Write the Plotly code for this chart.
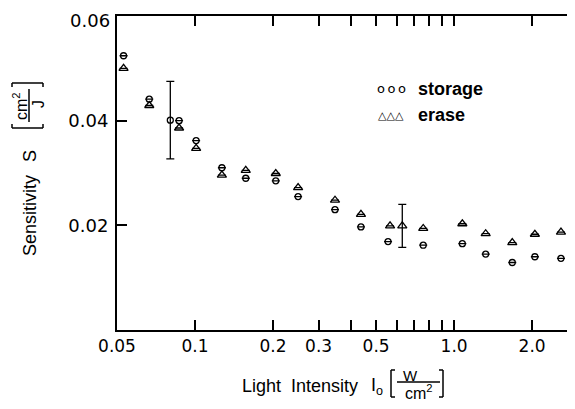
import math
import plotly.graph_objects as go

# ---- data ----
storage_x = [0.053, 0.0666, 0.0803, 0.0868, 0.101, 0.127, 0.157, 0.205, 0.25,
             0.347, 0.437, 0.556, 0.76, 1.076, 1.324, 1.677, 2.05, 2.585]
storage_y = [0.0524, 0.0441, 0.0401, 0.0400, 0.0362, 0.0310, 0.0290, 0.0285, 0.0255,
             0.0230, 0.0197, 0.0169, 0.0162, 0.0165, 0.0145, 0.0129, 0.0140, 0.0137]
storage_err = [None, None, 0.0074, None, None, None, None, None, None,
               None, None, None, None, None, None, None, None, None]

erase_x = [0.053, 0.0666, 0.0868, 0.101, 0.127, 0.157, 0.205, 0.25, 0.347,
           0.437, 0.566, 0.631, 0.76, 1.076, 1.324, 1.677, 2.05, 2.585]
erase_y = [0.0500, 0.0429, 0.0386, 0.0347, 0.0296, 0.0305, 0.0299, 0.0272, 0.0248,
           0.0221, 0.0199, 0.0199, 0.0194, 0.0203, 0.0184, 0.0167, 0.0183, 0.0187]
erase_err = [None, None, None, None, None, None, None, None, None,
             None, None, 0.0041, None, None, None, None, None, None]

x_tickvals = [0.05, 0.1, 0.2, 0.3, 0.5, 1.0, 2.0]
x_ticktext = ["0.05", "0.1", "0.2", "0.3", "0.5", "1.0", "2.0"]
x_minor_tickvals = [0.4, 0.6, 0.7, 0.8, 0.9]
y_tickvals = [0.02, 0.04]
y_ticktext = ["0.02", "0.04"]
y_top_label = "0.06"   # drawn separately so it stays inside the page

# ---- layout geometry (pixels, page has an 8px body margin) ----
OFF = 8
W, H = 575 - OFF, 409 - OFF
ML, MR, MT, MB = 117 - OFF, 0, 16 - OFF, 79
PW, PH = W - ML - MR, H - MT - MB
DECADE_PX = 259.1
xr = [math.log10(0.05), math.log10(0.05) + PW / DECADE_PX]


def px(x):  # window pixel -> paper
    return (x - OFF - ML) / PW


def py(y):
    return (H - MB - (y - OFF)) / PH


FONT = "Liberation Sans, Arial, sans-serif"
NUMFONT = "DejaVu Sans, sans-serif"
BLACK = "black"

fig = go.Figure()
fig.add_trace(go.Scatter(
    x=storage_x, y=storage_y, mode="markers", showlegend=False,
    marker=dict(symbol="circle-open", size=6, color=BLACK, line=dict(width=1.3, color=BLACK)),
    error_y=dict(type="data", array=storage_err, visible=True, color=BLACK, thickness=1.3, width=4),
))
fig.add_trace(go.Scatter(
    x=erase_x, y=erase_y, mode="markers", showlegend=False,
    marker=dict(symbol="triangle-up-open", size=8, color=BLACK, line=dict(width=1.3, color=BLACK)),
    error_y=dict(type="data", array=erase_err, visible=True, color=BLACK, thickness=1.3, width=4),
))
# helper trace so the right-hand tick axis is drawn
fig.add_trace(go.Scatter(x=storage_x, y=storage_y, yaxis="y2", mode="markers",
                         marker=dict(opacity=0), hoverinfo="skip", showlegend=False))

fig.update_layout(
    width=W, height=H,
    margin=dict(l=ML, r=MR, t=MT, b=MB, pad=0, autoexpand=False),
    paper_bgcolor="white", plot_bgcolor="white",
    font=dict(family=FONT, color=BLACK),
    xaxis=dict(type="log", range=xr, tickvals=x_tickvals, ticktext=x_ticktext,
               ticks="inside", ticklen=10, tickwidth=1.6, tickcolor=BLACK,
               minor=dict(tickvals=x_minor_tickvals, ticks="inside", ticklen=10,
                          tickwidth=1.6, tickcolor=BLACK, showgrid=False),
               showline=True, linewidth=2, linecolor=BLACK, mirror="ticks",
               showgrid=False, zeroline=False, automargin=False,
               ticklabeloverflow="allow",
               tickfont=dict(family=NUMFONT, size=17, color=BLACK)),
    yaxis=dict(range=[0, 0.06], tickvals=y_tickvals, ticktext=y_ticktext,
               ticks="inside", ticklen=10, tickwidth=1.6, tickcolor=BLACK,
               showline=True, linewidth=2, linecolor=BLACK, mirror=False,
               showgrid=False, zeroline=False, automargin=False, ticklabelstandoff=3,
               ticklabeloverflow="allow",
               tickfont=dict(family=NUMFONT, size=18, color=BLACK)),
    yaxis2=dict(range=[0, 0.06], overlaying="y", side="right", tickvals=y_tickvals,
                ticks="inside", ticklen=8, tickwidth=1.6, tickcolor=BLACK,
                showticklabels=False, showline=False, showgrid=False, zeroline=False,
                automargin=False),
)

ann = []


def add_text(text, x, y, size, angle=0, family=FONT, bold=False, anchor="center"):
    ann.append(dict(text=("<b>%s</b>" % text) if bold else text,
                    x=px(x), y=py(y), xref="paper", yref="paper",
                    xanchor=anchor, yanchor="middle", showarrow=False,
                    textangle=angle, font=dict(family=family, size=size, color=BLACK)))


# top y tick label
add_text(y_top_label, 112, 20, 18, family=NUMFONT, anchor="right")

# legend
add_text("o\u2009o\u2009o", 391, 89, 13, family=NUMFONT)
add_text("△△△", 391, 115, 11, family=NUMFONT, bold=True)
add_text("storage", 416, 89, 18, bold=True, anchor="left")
add_text("erase", 416, 115, 18, bold=True, anchor="left")

# x axis title
add_text("Light\u00a0\u00a0Intensity", 300, 386, 18)
add_text("I<sub>o</sub>", 377, 386, 18)
add_text("W", 410, 375, 15)
add_text("cm<sup>2</sup>", 419, 392, 16)

# y axis title
add_text("Sensitivity", 30, 216, 18, angle=-90)
add_text("S", 30, 156, 18, angle=-90)
add_text("cm<sup>2</sup>", 20, 106, 16, angle=-90)
add_text("J", 38, 104, 16, angle=-90)

fig.update_layout(annotations=ann)

shapes = []


def line(x0, y0, x1, y1, w=1.5):
    shapes.append(dict(type="line", xref="paper", yref="paper",
                       x0=px(x0), y0=py(y0), x1=px(x1), y1=py(y1),
                       line=dict(color=BLACK, width=w)))


# x title brackets + fraction bar
line(391, 370, 391, 397); line(391, 370, 395, 370); line(391, 397, 395, 397)
line(443, 370, 443, 397); line(443, 370, 439, 370); line(443, 397, 439, 397)
line(397, 382, 440, 382)
# y title brackets + fraction bar
line(12, 128, 43, 128); line(12, 128, 12, 124); line(43, 128, 43, 124)
line(12, 83, 43, 83); line(12, 83, 12, 87); line(43, 83, 43, 87)
line(29, 89, 29, 122)

fig.update_layout(shapes=shapes)

fig.write_html("out.html")
